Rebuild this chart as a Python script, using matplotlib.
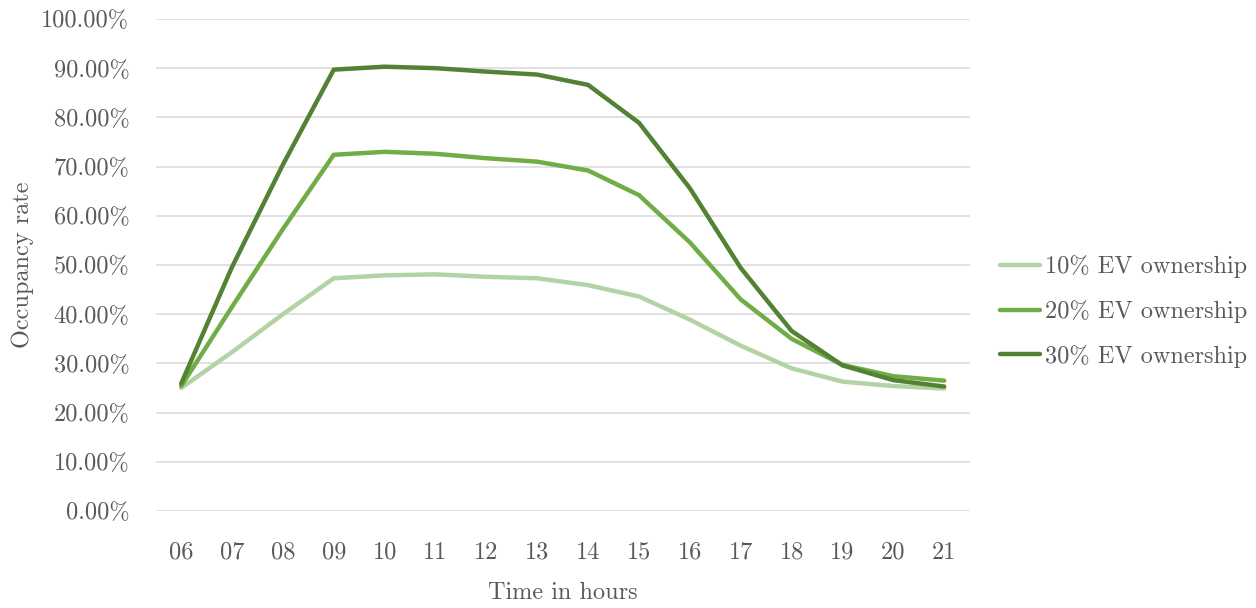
import matplotlib
matplotlib.use('Agg')
import matplotlib.pyplot as plt
from matplotlib.ticker import PercentFormatter

# --- data ---
hours = ['06', '07', '08', '09', '10', '11', '12', '13',
         '14', '15', '16', '17', '18', '19', '20', '21']
ev_10 = [25.0, 32.3, 40.0, 47.3, 47.9, 48.1, 47.6, 47.3,
         45.9, 43.6, 38.9, 33.6, 29.0, 26.3, 25.4, 24.9]
ev_20 = [25.4, 41.5, 57.3, 72.4, 73.0, 72.6, 71.7, 71.0,
         69.2, 64.2, 54.6, 43.0, 35.0, 29.7, 27.4, 26.5]
ev_30 = [25.9, 49.6, 70.4, 89.7, 90.3, 90.0, 89.3, 88.7,
         86.6, 78.9, 65.6, 49.4, 36.6, 29.6, 26.6, 25.3]
labels = ['10% EV ownership', '20% EV ownership', '30% EV ownership']

# --- style ---
plt.rcParams['font.family'] = ['cmr10', 'DejaVu Sans']
plt.rcParams['axes.unicode_minus'] = False
plt.rcParams['axes.formatter.use_mathtext'] = True
TEXT = '#595959'
FS = 17.5
colors = ['#b4d3a5', '#70ad47', '#548235']

fig = plt.figure(figsize=(12.56, 6.08), dpi=100)
ax = fig.add_axes([0.124, 0.1595, 0.648, 0.8093])

x = range(len(hours))
for vals, col, lab in zip([ev_10, ev_20, ev_30], colors, labels):
    ax.plot(x, vals, color=col, linewidth=3.2, label=lab,
            solid_capstyle='round', solid_joinstyle='round')

ax.set_xlim(-0.5, len(hours) - 0.5)
ax.set_ylim(0, 100)
ax.set_yticks(range(0, 101, 10))
ax.yaxis.set_major_formatter(PercentFormatter(decimals=2))
ax.set_xticks(list(x))
ax.set_xticklabels(hours)

ax.grid(axis='y', color='#d9d9d9', linewidth=1.1)
ax.set_axisbelow(True)
for side in ['top', 'right', 'left', 'bottom']:
    ax.spines[side].set_visible(False)
ax.tick_params(axis='both', length=0, labelsize=FS, colors=TEXT)
ax.tick_params(axis='x', pad=22)
ax.tick_params(axis='y', pad=19)

ax.set_xlabel('Time in hours', fontsize=FS, color=TEXT, labelpad=13)
ax.set_ylabel('Occupancy rate', fontsize=FS, color=TEXT, labelpad=5)

leg = ax.legend(loc='center left', bbox_to_anchor=(1.037, 0.405), frameon=False,
                fontsize=FS, handlelength=1.65, handletextpad=0.2,
                labelspacing=0.9, borderaxespad=0, borderpad=0,
                labelcolor=TEXT)

fig.savefig('out.png', dpi=100)
